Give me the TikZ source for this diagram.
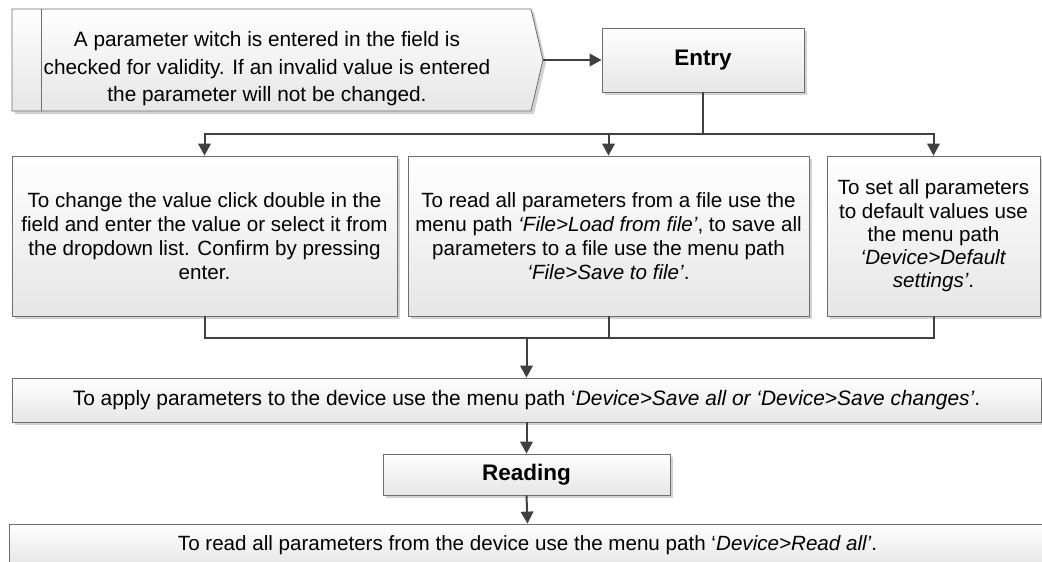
\documentclass[tikz,border=0pt]{standalone}
\usepackage{fontspec}
\setmainfont{Liberation Sans}
\usetikzlibrary{arrows.meta,shadows}
\definecolor{bord}{HTML}{6E6E6E}
\definecolor{connc}{HTML}{404040}
\definecolor{boxbot}{HTML}{E6E6E6}
\definecolor{shad}{HTML}{D2D2D2}
\tikzset{
  boxshadow/.style={drop shadow={shadow xshift=3pt,shadow yshift=-3pt,fill=shad,opacity=1}},
  flowbox/.style={draw=bord, line width=0.8pt, top color=white, bottom color=boxbot,
    boxshadow, inner sep=0pt, align=center, anchor=center,
    font=\fontsize{20.6}{24}\selectfont},
  labelfont/.style={font=\fontsize{22.5}{26}\selectfont\bfseries},
  conn/.style={draw=connc, line width=2pt},
  arr/.style={conn, -{Triangle[length=12pt,width=12.5pt]}},
}
\begin{document}
\begin{tikzpicture}[x=1pt,y=-1pt]
\useasboundingbox (0,0) rectangle (1042,562);
% callout shape
\draw[draw=bord, line width=0.8pt, top color=white, bottom color=boxbot, boxshadow]
  (12,9) -- (531,9) -- (543,60) -- (531,111) -- (12,111) -- cycle;
\draw[draw=bord, line width=0.8pt] (41,9) -- (41,111);
\node[inner sep=0pt, align=center, font=\fontsize{20.8}{27.5}\selectfont] (callout) at (267,69)
  {A parameter witch is entered in the field is\\
   checked for validity. If an invalid value is entered\\
   the parameter will not be changed.};
\coordinate (tip) at (543,60);

\node[flowbox, labelfont, minimum width=202pt, minimum height=64pt] (entry) at (703,60) {Entry};

\node[flowbox, minimum width=385pt, minimum height=160pt] (b1) at (204.5,236)
  {To change the value click double in the\\
   field and enter the value or select it from\\
   the dropdown list. Confirm by pressing\\
   enter.};
\node[flowbox, minimum width=401pt, minimum height=160pt] (b2) at (608.5,236)
  {To read all parameters from a file use the\\
   menu path \textit{‘File>Load from file’}, to save all\\
   parameters to a file use the menu path\\
   \textit{‘File>Save to file’}.};
\node[flowbox, minimum width=213pt, minimum height=160pt,
  font=\fontsize{20.6}{23.3}\selectfont] (b3) at (933.5,236)
  {To set all parameters\\
   to default values use\\
   the menu path\\
   \textit{‘Device>Default}\\
   \textit{settings’}.};

\node[flowbox, minimum width=1029pt, minimum height=44pt, font=\fontsize{20.9}{24}\selectfont] (apply) at (526.5,400)
  {To apply parameters to the device use the menu path ‘\textit{Device>Save all or ‘Device>Save changes’}.};
\node[flowbox, labelfont, minimum width=287pt, minimum height=41pt] (reading) at (526.5,474.5) {Reading};
\node[flowbox, minimum width=1037pt, minimum height=42pt] (readall) at (527.5,545)
  {To read all parameters from the device use the menu path ‘\textit{Device>Read all’}.};

\coordinate (split) at (703,134);
\coordinate (join) at (526.5,338);

\draw[arr] (tip) -- (entry.west);
\draw[conn] (entry.south) -- (split);
\draw[arr] (split) -| (b1.north);
\draw[arr] (split) -| (b3.north);
\draw[arr] (b2.north |- split) -- (b2.north);

\draw[conn] (b1.south) -- (b1.south |- join) -- (b3.south |- join) -- (b3.south);
\draw[conn] (b2.south) -- (b2.south |- join);
\draw[arr] (join) -- (apply.north);
\draw[arr] (apply.south) -- (reading.north);
\draw[arr] (reading.south) -- (readall.north);
\end{tikzpicture}
\end{document}
